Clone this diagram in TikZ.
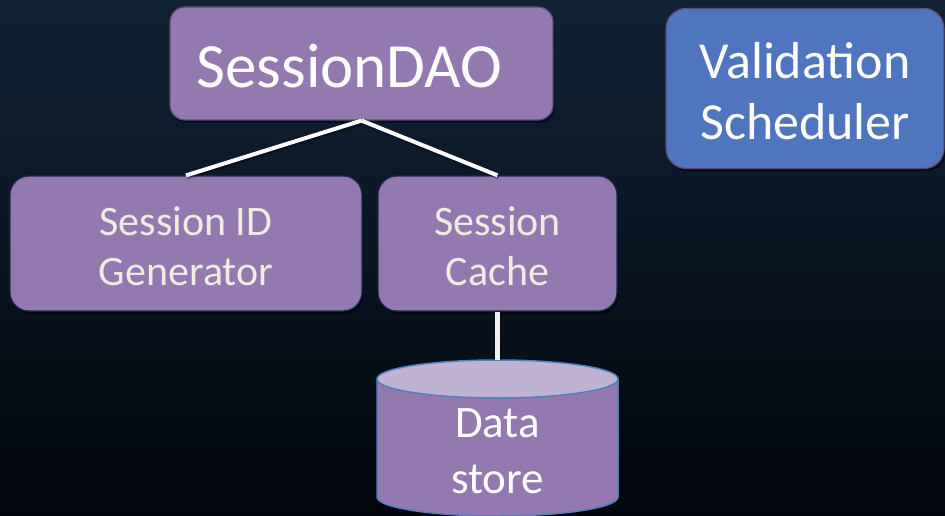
\documentclass[tikz,border=0pt]{standalone}
\usepackage{fontspec}
\setmainfont{Carlito}
\usetikzlibrary{shadows}
\definecolor{bgtop}{RGB}{17,34,54}
\definecolor{bgbot}{RGB}{2,6,12}
\definecolor{purp}{RGB}{147,121,176}
\definecolor{purpedge}{RGB}{92,74,115}
\definecolor{navyedge}{RGB}{28,46,74}
\definecolor{vblue}{RGB}{79,117,190}
\definecolor{cyltop}{RGB}{192,178,212}
\definecolor{cyledge}{RGB}{79,129,189}
\definecolor{cream}{RGB}{240,236,228}
\begin{document}
\begin{tikzpicture}[x=1pt,y=-1pt,
  box/.style={draw, rounded corners=17pt, line width=1.2pt, align=center, inner sep=0pt,
    drop shadow={opacity=0.45, shadow xshift=1.5pt, shadow yshift=-3pt, fill=black}},
  conn/.style={draw=white, line width=4pt},
  connshadow/.style={draw=black, opacity=0.35, line width=4pt},
]
\shade[top color=bgtop, bottom color=bgbot] (0,0) rectangle (945,516);
\useasboundingbox (0,0) rectangle (945,516);

% boxes
\node[box, fill=purp, draw=purpedge, rounded corners=15pt, minimum width=383pt, minimum height=113pt,
      text=white, font=\fontsize{63}{70}\selectfont, text height=48pt, text depth=0pt] (dao) at (361.5,63.5) {\hspace*{-24pt}SessionDAO};
\node[box, fill=vblue, draw=purpedge, rounded corners=20pt, minimum width=278pt, minimum height=160pt,
      text=white, font=\fontsize{52}{62}\selectfont, text height=103pt, text depth=0pt] (val) at (805,88.5) {Validation\\Scheduler};
\node[box, fill=purp, draw=navyedge, rounded corners=19pt, minimum width=352pt, minimum height=135pt,
      text=cream, font=\fontsize{42}{50}\selectfont, text height=83pt, text depth=0pt] (gen) at (186,243.5) {Session ID\\Generator};
\node[box, fill=purp, draw=navyedge, rounded corners=19pt, minimum width=239pt, minimum height=135pt,
      text=cream, font=\fontsize{42}{50}\selectfont, text height=83pt, text depth=0pt] (cache) at (497.5,243.5) {Session\\Cache};

% data store cylinder
\coordinate (dstop) at (497.5,360);
\fill[purp] (377,379) -- (377,497) arc[start angle=180,end angle=360,x radius=120.5pt,y radius=19pt] -- (618,379) -- cycle;
\draw[cyledge, line width=1.5pt] (377,379) -- (377,497) arc[start angle=180,end angle=360,x radius=120.5pt,y radius=19pt] -- (618,379);
\draw[cyledge, line width=1.5pt, fill=cyltop] (497.5,379) ellipse [x radius=120.5pt, y radius=19pt];
\node[text=white, font=\fontsize{45}{56}\selectfont, align=center, inner sep=0pt, text height=82pt, text depth=0pt] (ds) at (497.5,452) {Data\\store};

% connectors
\draw[connshadow] ([xshift=1pt,yshift=-2pt]dao.south) -- ([xshift=1pt,yshift=-2pt]gen.north);
\draw[connshadow] ([xshift=1pt,yshift=-2pt]dao.south) -- ([xshift=1pt,yshift=-2pt]cache.north);
\draw[conn] (dao.south) -- (gen.north);
\draw[conn] (dao.south) -- (cache.north);
\draw[connshadow] ([xshift=1.5pt,yshift=0pt]cache.south) -- ([xshift=1.5pt]dstop);
\draw[draw=white!88!gray, line width=4.5pt] (cache.south) -- (dstop);
\end{tikzpicture}
\end{document}
